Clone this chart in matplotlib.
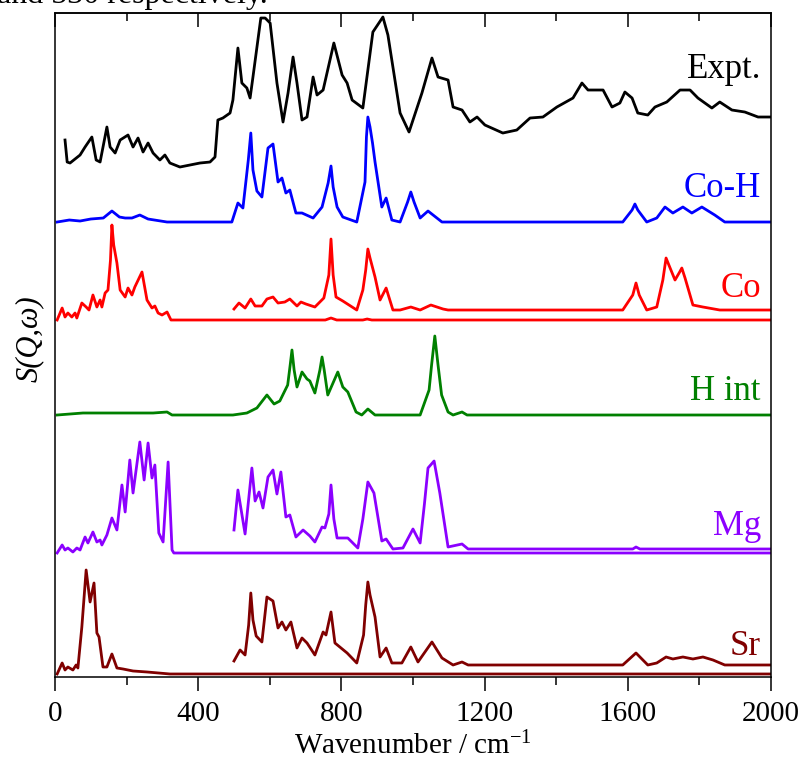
import matplotlib
matplotlib.use("Agg")
import matplotlib.pyplot as plt
from matplotlib.ticker import MultipleLocator

plt.rcParams['font.family'] = ['Liberation Serif', 'DejaVu Serif']
plt.rcParams['mathtext.fontset'] = 'custom'
plt.rcParams['mathtext.rm'] = 'Liberation Serif'
plt.rcParams['mathtext.it'] = 'Liberation Serif:italic'

# measured INS spectrum
expt_wn = [28, 34, 42, 70, 84, 103, 115, 126, 145, 154, 168, 182, 204, 218, 232, 246, 260, 274,
           293, 307, 321, 349, 377, 405, 433, 447, 455, 469, 489, 497, 511, 522, 536, 545, 553,
           575, 587, 601, 620, 637, 651, 665, 676, 690, 704, 721, 732, 749, 779, 802, 816, 830,
           860, 888, 916, 930, 964, 989, 1025, 1053, 1070, 1098, 1112, 1137, 1159, 1179, 1201,
           1251, 1290, 1327, 1363, 1402, 1447, 1472, 1489, 1531, 1556, 1578, 1592, 1612, 1628,
           1656, 1676, 1709, 1746, 1774, 1796, 1835, 1857, 1891, 1927, 1964, 2000]
expt_int = [30, 8, 7, 15, 23, 33, 10, 8, 43, 23, 17, 30, 35, 23, 32, 18, 27, 17,
            10, 15, 7, 3, 5, 7, 8, 13, 50, 52, 57, 70, 122, 87, 82, 72, 93,
            152, 152, 147, 87, 48, 77, 113, 87, 50, 53, 93, 75, 80, 127, 95, 87, 70,
            62, 138, 153, 135, 57, 38, 77, 112, 93, 90, 63, 60, 48, 53, 45,
            37, 40, 52, 53, 63, 72, 87, 80, 80, 63, 67, 78, 72, 57,
            55, 63, 68, 80, 80, 72, 62, 68, 60, 58, 53, 53]

# Co-H
coh_wn = [6, 40, 70, 100, 135, 159, 180, 196, 215, 237, 260, 313, 494, 511, 525, 540, 547, 553,
          564, 578, 595, 609, 623, 634, 645, 656, 673, 690, 721, 746, 763, 771, 777, 788, 804,
          843, 866, 870, 874, 880, 887, 894, 913, 925, 941, 964, 985, 994, 1003, 1020,
          1042, 1081, 1586, 1612, 1620, 1628, 1653, 1681, 1704, 1726, 1754, 1779, 1807, 1843,
          1871, 2000]
coh_int = [0, 2, 1, 3, 4, 11, 5, 4, 4, 7, 3, 0, 0, 19, 14, 62, 89, 52,
           31, 25, 74, 78, 40, 44, 29, 32, 9, 9, 4, 15, 39, 56, 35, 15, 5,
           0, 40, 85, 105, 95, 79, 60, 15, 24, 2, 0, 20, 30, 20, 4,
           11, 0, 0, 12, 18, 12, 0, 4, 15, 9, 15, 9, 15, 7,
           0, 0]

# Co: low-energy part and high-energy part
co_low_wn = [6, 20, 28, 36, 47, 56, 61, 75, 87, 95, 106, 117, 126, 131, 140, 148, 155, 159, 164,
             173, 182, 196, 204, 215, 223, 243, 257, 271, 279, 288, 299, 313, 324, 755, 771,
             787, 860, 872, 885, 2000]
co_low_int = [0, 12, 3, 7, 3, 7, 2, 17, 13, 10, 25, 13, 20, 13, 27, 30, 60, 95, 75,
              57, 30, 23, 32, 25, 33, 48, 20, 12, 14, 7, 5, 8, 0, 0, 2,
              0, 0, 1, 0, 0]
co_high_wn = [500, 514, 531, 547, 559, 578, 592, 609, 623, 642, 656, 676, 687, 701, 726, 751,
              765, 771, 777, 785, 804, 843, 860, 868, 874, 880, 894, 908, 925, 944, 964, 994,
              1020, 1050, 1084, 1098, 1586, 1614, 1623, 1632, 1653, 1681, 1698, 1707, 1716,
              1732, 1745, 1751, 1760, 1782, 1810, 1857, 2000]
co_high_int = [1, 7, 2, 11, 4, 4, 11, 13, 7, 8, 11, 4, 8, 6, 3, 12,
               35, 71, 35, 13, 9, 0, 20, 40, 61, 52, 33, 10, 22, 0, 0, 3,
               0, 5, 1, 0, 0, 15, 27, 15, 0, 3, 30, 52, 44,
               30, 38, 42, 32, 5, 3, 0, 0]

# interstitial H
hint_wn = [6, 78, 159, 209, 274, 313, 327, 497, 536, 564, 592, 612, 628, 650, 657, 662, 668,
           676, 690, 704, 712, 726, 740, 746, 752, 762, 790, 804, 818, 841, 857, 874, 894, 1020,
           1045, 1052, 1061, 1070, 1080, 1098, 1112, 1137, 1151, 2000]
hint_int = [0, 2, 2, 2, 2, 3, 0, 0, 2, 7, 20, 11, 14, 30, 50, 65, 45,
            28, 43, 36, 34, 22, 45, 58, 45, 20, 43, 28, 23, 3, 0, 6, 0, 0,
            25, 50, 79, 50, 20, 3, 0, 3, 0, 0]

# Mg
mg_low_wn = [6, 20, 28, 36, 50, 61, 70, 84, 92, 106, 117, 126, 131, 145, 159, 173, 187, 196,
             209, 218, 237, 249, 260, 271, 279, 290, 302, 316, 327, 332, 2000]
mg_low_int = [0, 8, 3, 5, 1, 5, 3, 16, 10, 21, 11, 13, 8, 18, 35, 23, 68, 41,
              93, 60, 111, 73, 110, 75, 88, 20, 11, 91, 3, 0, 0]
mg_high_wn = [500, 511, 531, 550, 559, 570, 581, 595, 609, 620, 631, 645, 656, 673, 693, 712,
              726, 746, 754, 765, 771, 779, 788, 818, 846, 860, 874, 891, 913, 925, 944, 972,
              1000, 1020, 1032, 1042, 1059, 1075, 1098, 1137, 1154, 1614, 1623, 1634, 2000]
mg_high_int = [19, 59, 15, 81, 48, 57, 41, 72, 79, 55, 77, 32, 34, 12, 19, 13,
               7, 22, 21, 35, 64, 30, 11, 11, 1, 30, 67, 56, 8, 10, 0, 1,
               20, 6, 45, 81, 88, 56, 2, 5, 0, 0, 2, 0, 0]

# Sr
sr_low_wn = [6, 20, 28, 36, 50, 59, 64, 75, 87, 98, 109, 117, 123, 134, 145, 159, 173, 190,
             218, 257, 321, 2000]
sr_low_int = [0, 11, 4, 7, 4, 9, 6, 47, 104, 72, 91, 41, 37, 7, 7, 20, 6, 5,
              3, 2, 0, 0]
sr_high_wn = [500, 517, 531, 541, 547, 553, 562, 578, 592, 609, 623, 634, 645, 659, 676, 690,
              704, 726, 749, 757, 771, 782, 816, 843, 862, 868, 874, 880, 894, 908, 925, 941,
              969, 994, 1014, 1053, 1081, 1112, 1137, 1154, 1586, 1623, 1656, 1681, 1707,
              1726, 1754, 1782, 1810, 1838, 1871, 2000]
sr_high_int = [4, 15, 10, 40, 72, 45, 29, 23, 68, 64, 37, 43, 35, 43, 17, 27,
               22, 10, 33, 30, 53, 22, 12, 2, 30, 60, 83, 70, 48, 8, 17, 2,
               2, 18, 3, 23, 7, 0, 3, 0, 0, 12, 0, 2, 8,
               6, 8, 6, 8, 5, 0, 0]

labels = ['Expt.', 'Co-H', 'Co', 'H int', 'Mg', 'Sr']
colors = ['black', '#0000FF', '#FF0000', '#008000', '#8B00FF', '#800000']

fig = plt.figure(figsize=(8.04, 7.66), dpi=100)
ax = fig.add_axes([0.0684, 0.1162, 0.8905, 0.8668])

lw = 2.0
ax.plot(expt_wn, [v + 507 for v in expt_int], color=colors[0], lw=lw)
ax.plot(coh_wn, [v + 455 for v in coh_int], color=colors[1], lw=lw)
ax.plot(co_low_wn, [v + 357 for v in co_low_int], color=colors[2], lw=lw)
ax.plot(co_high_wn, [v + 367 for v in co_high_int], color=colors[2], lw=lw)
ax.plot(hint_wn, [v + 262 for v in hint_int], color=colors[3], lw=lw)
ax.plot(mg_low_wn, [v + 124 for v in mg_low_int], color=colors[4], lw=lw)
ax.plot(mg_high_wn, [v + 128 for v in mg_high_int], color=colors[4], lw=lw)
ax.plot(sr_low_wn, [v + 3 for v in sr_low_int], color=colors[5], lw=lw)
ax.plot(sr_high_wn, [v + 12 for v in sr_high_int], color=colors[5], lw=lw)

# curve names, right aligned
label_y = [599, 480, 380, 277, 142, 22]
for name, c, y in zip(labels, colors, label_y):
    ax.text(1972, y, name, color=c, fontsize=25, ha='right', va='baseline')

ax.set_xlim(0, 2000)
ax.set_ylim(0, 664)
ax.xaxis.set_major_locator(MultipleLocator(400))
ax.xaxis.set_minor_locator(MultipleLocator(200))
ax.tick_params(axis='x', which='both', bottom=True, top=False, direction='out',
               labelsize=21, width=1.1, pad=7)
ax.tick_params(axis='x', which='major', length=10)
ax.tick_params(axis='x', which='minor', length=5.5)
ax.set_yticks([])

# inward ticks along the top edge
top = ax.secondary_xaxis('top')
top.xaxis.set_major_locator(MultipleLocator(400))
top.xaxis.set_minor_locator(MultipleLocator(200))
top.tick_params(axis='x', which='both', direction='in', labeltop=False, width=1.1)
top.tick_params(axis='x', which='major', length=10)
top.tick_params(axis='x', which='minor', length=5.5)
top.spines['top'].set_linewidth(1.1)

for s in ax.spines.values():
    s.set_linewidth(1.1)

ax.set_xlabel('Wavenumber / cm$^{-1}$', fontsize=21, labelpad=4)
ax.set_ylabel('S(Q,ω)', fontsize=22, style='italic')
ax.yaxis.set_label_coords(-0.015, 0.51)

fig.text(-0.004, 1.006, 'and 530 respectively.', fontsize=23, va='center', ha='left')

fig.savefig('out.png', dpi=100)
